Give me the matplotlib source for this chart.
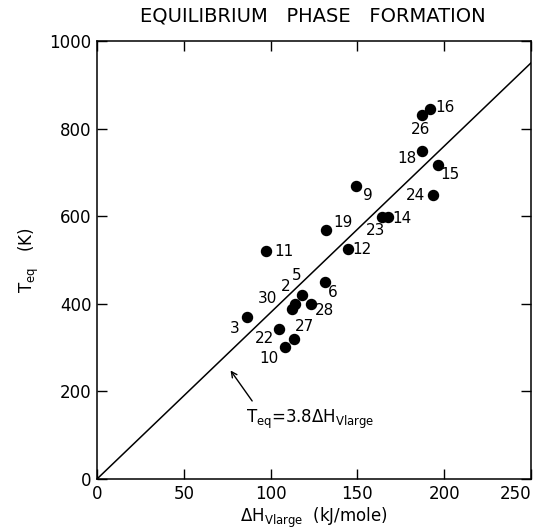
import matplotlib.pyplot as plt
import numpy as np

plt.rcParams['font.family'] = 'DejaVu Sans'
plt.rcParams['mathtext.default'] = 'regular'

# numbered compounds: dH_Vlarge (kJ/mole) and T_eq (K)
ids = ["11", "3", "30", "2", "5", "28", "6", "22", "27", "10",
       "16", "26", "18", "15", "9", "24", "14", "23", "19", "12"]
dh = [97.4, 86.4, 112.3, 114.2, 118.3, 123.1, 131.3, 105.0, 113.3, 108.3,
      191.8, 187.4, 187.4, 196.3, 149.2, 193.4, 167.4, 164.0, 132.1, 144.4]
teq = [520, 370, 388, 399, 420, 399, 450, 342, 320, 301,
       845, 830, 750, 718, 669, 648, 599, 599, 568, 524]

slope = 3.8
fit_x = np.array([0, 250])

# label offsets in points
offs = {"11": (12.7, 0), "3": (-8.6, -8.6), "30": (-17.3, 7.9),
        "2": (-7.2, 12.7), "5": (-4, 14.4), "28": (9.8, -4.6),
        "6": (5.8, -7.7), "22": (-10.8, -6.5), "27": (7.7, 8.6),
        "10": (-11.3, -7.9), "16": (10.8, 1.2), "26": (-1.4, -10.3),
        "18": (-11, -6), "15": (9.1, -7), "9": (8.9, -7.2),
        "24": (-12.5, 0), "14": (10.1, -1.7), "23": (-4.1, -10.1),
        "19": (12.2, 5.5), "12": (10.3, 0)}

fig = plt.figure(figsize=(5.41, 5.28), dpi=100)
ax = fig.add_axes([97/541, 1-479/528, 434/541, 438/528])

ax.plot(fit_x, slope*fit_x, color="black", lw=1.1)
ax.scatter(dh, teq, s=52, color="black", zorder=3)
for name, x, y in zip(ids, dh, teq):
    ax.annotate(name, (x, y), xytext=offs[name], textcoords="offset points",
                ha="center", va="center", fontsize=11)

ax.annotate("", xy=(76, 253), xytext=(90.3, 173),
            arrowprops=dict(arrowstyle="->", lw=1, color="black"))
ax.text(86, 135, r"$T_{eq}$=3.8$\Delta H_{Vlarge}$", fontsize=12,
        ha="left", va="center")

ax.set_xlim(0, 250)
ax.set_ylim(0, 1000)
ax.set_xticks(np.arange(0, 251, 50))
ax.set_yticks(np.arange(0, 1001, 200))
ax.tick_params(direction="in", length=7, width=1, top=True, right=True,
               labelsize=12, pad=4)
ax.get_xticklabels()[-1].set_horizontalalignment("right")
for sp in ax.spines.values():
    sp.set_linewidth(1.1)

ax.set_xlabel(r"$\Delta H_{Vlarge}$  (kJ/mole)", fontsize=12, labelpad=2)
ax.set_ylabel(r"$T_{eq}$   (K)", fontsize=12, labelpad=6)
fig.text(313/541, 1-16/528, "EQUILIBRIUM   PHASE   FORMATION",
         ha="center", va="center", fontsize=14)

fig.savefig("out.png", dpi=100)
